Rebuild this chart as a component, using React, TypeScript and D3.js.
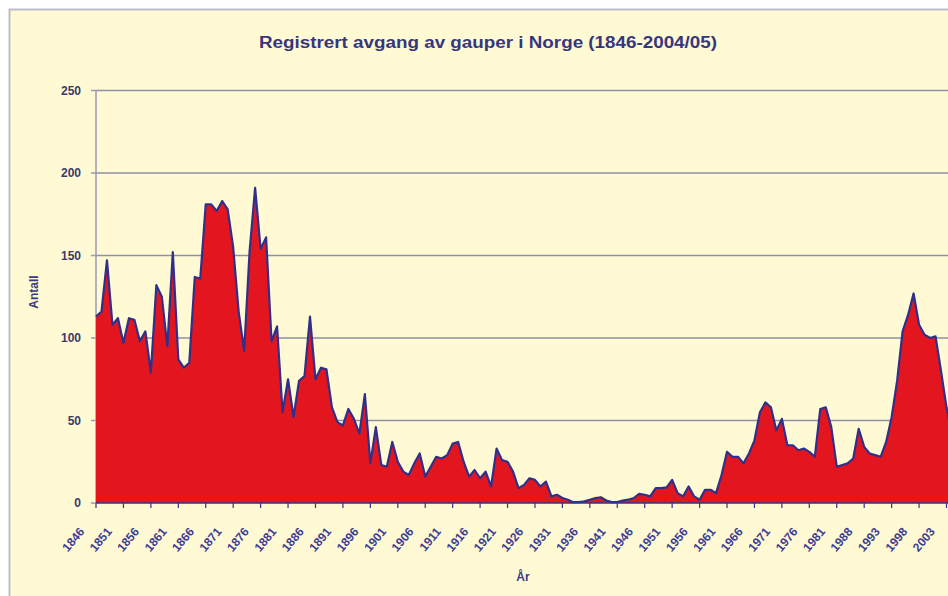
import React from "react";
import * as d3 from "d3";

const values: number[] = [
  113, 116, 147, 108, 112, 97, 112, 111, 98, 104,
  79, 132, 125, 95, 152, 87, 82, 85, 137, 136,
  181, 181, 177, 183, 178, 155, 116, 92, 153, 191,
  154, 161, 98, 107, 55, 75, 52, 74, 77, 113,
  75, 82, 81, 58, 49, 47, 57, 51, 42, 66,
  24, 46, 23, 22, 37, 25, 19, 17, 24, 30,
  16, 22, 28, 27, 29, 36, 37, 25, 16, 20,
  15, 19, 10, 33, 26, 25, 19, 9, 11, 15,
  14, 10, 13, 4, 5, 3, 2, 0.5, 0.5, 1,
  2, 3, 3.5, 1.5, 0.5, 0.5, 1.5, 2, 3, 5.5,
  5, 4, 9, 9, 9.5, 14, 6, 4, 10, 4,
  2, 8, 8, 6, 17, 31, 28, 28, 24, 30,
  38, 55, 61, 58, 44, 51, 35, 35, 32, 33,
  31, 28, 57, 58, 46, 22, 23, 24, 27, 45,
  34, 30, 29, 28, 37, 52, 74, 104, 114, 127,
  108, 102, 100, 101, 80, 58, 42,
];

const tickLabels: string[] = [
  "1846", "1851", "1856", "1861", "1866", "1871", "1876", "1881",
  "1886", "1891", "1896", "1901", "1906", "1911", "1916", "1921",
  "1926", "1931", "1936", "1941", "1946", "1951", "1956", "1961",
  "1966", "1971", "1976", "1981", "1988", "1993", "1998", "2003",
];
const tickStep = 5;
const yTicks: number[] = [0, 50, 100, 150, 200, 250];

const title = "Registrert avgang av gauper i Norge (1846-2004/05)";
const yTitle = "Antall";
const xTitle = "År";

const W = 948;
const H = 596;
const LEFT = 96;
const TOP = 90.5;
const BOTTOM = 503;

export default function App() {
  const lastTickIdx = (tickLabels.length - 1) * tickStep;
  const x = d3.scaleLinear().domain([0, lastTickIdx]).range([LEFT, 946.5]);
  const y = d3.scaleLinear().domain([0, 250]).range([BOTTOM, TOP]);

  const area = d3
    .area<number>()
    .x((_, i) => x(i))
    .y0(y(0))
    .y1((d) => y(d));
  const line = d3
    .line<number>()
    .x((_, i) => x(i))
    .y((d) => y(d));

  const font = "'Liberation Sans', Arial, sans-serif";
  const navy = "#34348a";

  return (
    <svg
      width={W}
      height={H}
      style={{ position: "absolute", left: 0, top: 0, display: "block" }}
      fontFamily={font}
    >
      <rect x={0} y={0} width={W} height={H} fill="#ffffff" />
      <rect
        x={9.5}
        y={9.5}
        width={W + 20}
        height={H + 20}
        fill="#fffad3"
        stroke="#bdbdc9"
        strokeWidth={2}
      />
      <text
        x={488}
        y={48}
        textAnchor="middle"
        fontSize={16}
        fontWeight="bold"
        fill="#36367f"
        textLength={458}
        lengthAdjust="spacingAndGlyphs"
      >
        {title}
      </text>

      {/* gridlines */}
      {yTicks
        .filter((t) => t > 0)
        .map((t) => (
          <line
            key={"g" + t}
            x1={LEFT}
            x2={W}
            y1={y(t)}
            y2={y(t)}
            stroke="#8f8fa6"
            strokeWidth={1.5}
          />
        ))}

      {/* y axis */}
      <line x1={LEFT} x2={LEFT} y1={TOP} y2={BOTTOM} stroke="#9a9ab4" strokeWidth={1.5} />
      {yTicks.map((t) => (
        <g key={"yt" + t}>
          <line x1={LEFT - 5} x2={LEFT} y1={y(t)} y2={y(t)} stroke="#9a9ab4" strokeWidth={1.5} />
          <text
            x={81}
            y={y(t)}
            dy="0.35em"
            textAnchor="end"
            fontSize={12}
            fontWeight="bold"
            fill="#3a3a6e"
          >
            {t}
          </text>
        </g>
      ))}
      <text
        transform={`translate(38,292) rotate(-90)`}
        textAnchor="middle"
        fontSize={12}
        fontWeight="bold"
        fill="#3a3a84"
      >
        {yTitle}
      </text>

      {/* area */}
      <path d={area(values) || ""} fill="#e3161f" />
      <path d={line(values) || ""} fill="none" stroke="#30308a" strokeWidth={2.2} strokeLinejoin="round" />

      {/* x axis */}
      <line x1={LEFT} x2={W} y1={BOTTOM} y2={BOTTOM} stroke={navy} strokeWidth={1.5} />
      {tickLabels.map((lab, k) => {
        const tx = x(k * tickStep);
        return (
          <g key={"xt" + lab}>
            <line x1={tx} x2={tx} y1={BOTTOM} y2={BOTTOM + 5} stroke={navy} strokeWidth={1.2} />
            <text
              transform={`translate(${tx - 11},${BOTTOM + 29}) rotate(-50)`}
              textAnchor="end"
              fontSize={12}
              fontWeight="bold"
              fill="#3e3e96"
            >
              {lab}
            </text>
          </g>
        );
      })}
      <text x={523} y={581} textAnchor="middle" fontSize={12} fontWeight="bold" fill="#3a3a84">
        {xTitle}
      </text>
    </svg>
  );
}
